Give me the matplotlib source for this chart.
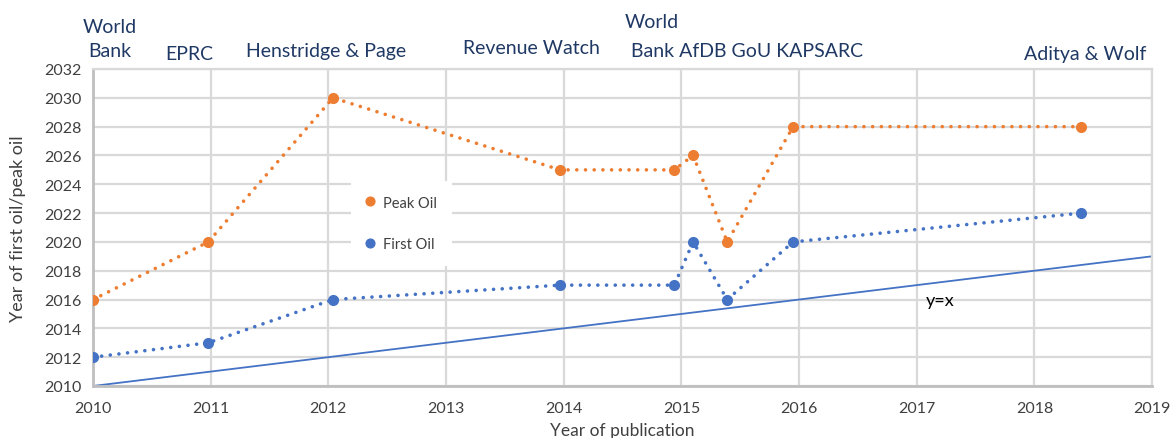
import matplotlib
matplotlib.use("Agg")
import matplotlib.pyplot as plt

plt.rcParams['font.family'] = ['Lato', 'DejaVu Sans']

# Data
pub_year = [2010.0, 2010.98, 2012.04, 2013.97, 2014.94, 2015.10, 2015.39, 2015.95, 2018.40]
peak_oil = [2016, 2020, 2030, 2025, 2025, 2026, 2020, 2028, 2028]
first_oil = [2012, 2013, 2016, 2017, 2017, 2020, 2016, 2020, 2022]
yx_line = [2010, 2019]

source_labels = ["World\nBank", "EPRC", "Henstridge & Page", "Revenue Watch",
                 "World", "Bank AfDB GoU KAPSARC", "Aditya & Wolf"]
source_x = [2010.14, 2010.82, 2011.98, 2013.73, 2014.75, 2015.56, 2018.43]
source_y = [2034.1, 2033.1, 2033.25, 2033.5, 2035.3, 2033.3, 2033.1]

ORANGE = '#ED7D31'
BLUE = '#4472C4'
NAVY = '#1F3864'
GRID = '#D9D9D9'

fig = plt.figure(figsize=(11.75, 4.39), dpi=100)
ax = fig.add_axes([93/1175, 52/439, (1152-93)/1175, (387-70)/439])

dot = (0, (0.01, 2.4))
ax.plot(yx_line, yx_line, color=BLUE, lw=1.3, solid_capstyle='butt', zorder=2)
ax.plot(pub_year, peak_oil, color=ORANGE, lw=2.6, linestyle=dot, dash_capstyle='round',
        marker='o', markersize=7, label='Peak Oil', zorder=3)
ax.plot(pub_year, first_oil, color=BLUE, lw=2.6, linestyle=dot, dash_capstyle='round',
        marker='o', markersize=7, label='First Oil', zorder=3)

ax.set_xlim(2010, 2019)
ax.set_ylim(2010, 2032)
ax.set_xticks(range(2010, 2020))
ax.set_yticks(range(2010, 2033, 2))
ax.grid(True, color=GRID, lw=1.6)
ax.set_axisbelow(True)
ax.tick_params(length=0, labelsize=11.5, labelcolor='#404040', pad=8)
ax.tick_params(axis='x', pad=11)
for s in ['top', 'right']:
    ax.spines[s].set_color(GRID)
    ax.spines[s].set_linewidth(1.6)
for s in ['left', 'bottom']:
    ax.spines[s].set_color('#BFBFBF')
    ax.spines[s].set_linewidth(2)

ax.set_xlabel('Year of publication', fontsize=12.5, color='#404040', labelpad=0)
ax.xaxis.set_label_coords(0.5, -0.113)
ax.set_ylabel('Year of first oil/peak oil', fontsize=13, color='#404040')
ax.yaxis.set_label_coords(-0.063, 0.5)

ax.text(2017.2, 2016.0, 'y=x', fontsize=13, color='black', ha='center', va='center')

for lab, x, y in zip(source_labels, source_x, source_y):
    ax.text(x, y, lab, fontsize=14, color=NAVY, ha='center', va='center',
            clip_on=False, linespacing=1.5)

leg = ax.legend(loc='upper left', bbox_to_anchor=(351/1175, (439-182)/439),
                bbox_transform=fig.transFigure, frameon=True, fontsize=10.5,
                labelspacing=1.9, handlelength=0.6, handletextpad=0.6,
                borderpad=1.0, borderaxespad=0, markerscale=0.9)
leg.get_frame().set_facecolor('white')
leg.get_frame().set_edgecolor('none')
leg.get_frame().set_alpha(1)
leg.get_frame().set_boxstyle('square', pad=0)
for h in leg.get_lines():
    h.set_linestyle('none')
for t in leg.get_texts():
    t.set_color('#404040')

fig.savefig('out.png', dpi=100)
